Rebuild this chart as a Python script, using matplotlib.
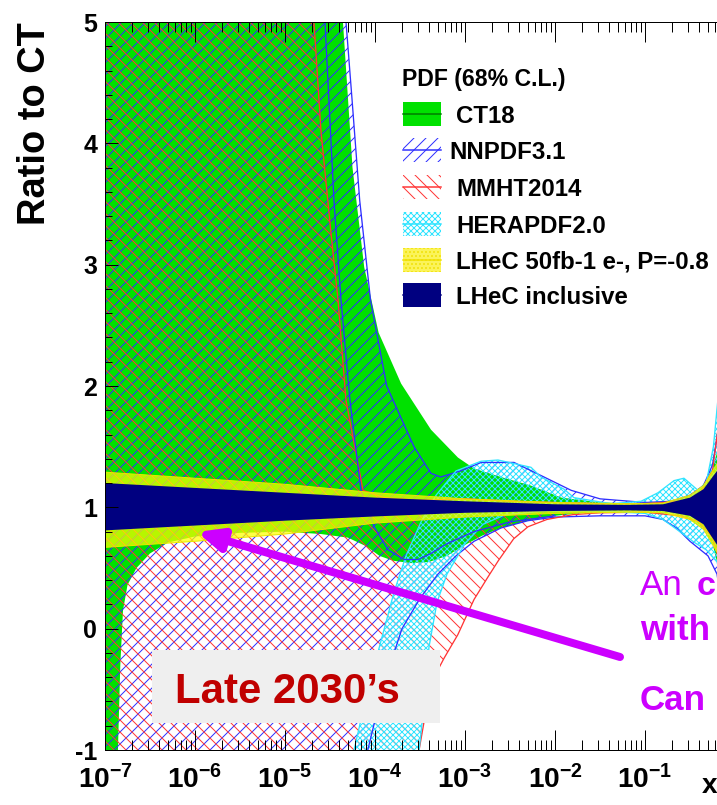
import numpy as np
import matplotlib
matplotlib.use("Agg")
import matplotlib.pyplot as plt
from matplotlib.patches import Rectangle, FancyArrowPatch
from matplotlib.lines import Line2D
from matplotlib.ticker import LogLocator, MultipleLocator, NullFormatter

# canvas in pixels; sizes below are written in pixels and converted with pt()
W, H, DPI = 717, 805, 72

# ---- PDF bands: ratio to CT18, edges given at log10(x) ----
CT18_UP_LOGX = [-7.0, -4.45, -4.40, -4.356, -4.25, -4.12, -3.96, -3.71, -3.378, -3.078,
                -2.9, -2.6, -2.27, -1.93, -1.49, -1.04, -0.66, -0.43, -0.32, -0.25, -0.20,
                -0.16, -0.10, 0.0]
CT18_UP = [6.0, 6.0, 5.6, 5.0, 3.8, 2.98, 2.44, 2.02, 1.64, 1.41,
           1.32, 1.25, 1.18, 1.08, 1.04, 1.03, 1.06, 1.12, 1.22, 1.32, 1.45,
           1.9, 3.0, 5.5]
CT18_LO_LOGX = [-7.0, -6.86, -6.83, -6.80, -6.75, -6.65, -6.5, -6.3, -6.0, -5.5, -5.0, -4.6,
                -4.3, -4.1, -3.95, -3.8, -3.6, -3.4, -3.2, -3.0, -2.8, -2.6, -2.3, -2.0,
                -1.6, -1.0, -0.7, -0.5, -0.35, -0.25, -0.15, 0.0]
CT18_LO = [-1.5, -1.1, -0.3, 0.15, 0.36, 0.50, 0.62, 0.71, 0.76, 0.79, 0.80, 0.78,
           0.75, 0.68, 0.60, 0.56, 0.54, 0.55, 0.60, 0.69, 0.77, 0.83, 0.89, 0.93,
           0.96, 0.965, 0.95, 0.90, 0.82, 0.70, 0.40, -0.5]

NN_UP_LOGX = [-7.0, -4.45, -4.322, -4.255, -4.17, -4.05, -3.87, -3.567, -3.378, -3.27,
              -3.05, -2.82, -2.456, -2.122, -1.82, -1.5, -1.0, -0.7, -0.5, -0.35, -0.25,
              -0.15, 0.0]
NN_UP = [6.0, 6.0, 5.0, 4.36, 3.53, 2.71, 2.0, 1.50, 1.28, 1.25,
         1.30, 1.37, 1.37, 1.25, 1.14, 1.07, 1.04, 1.05, 1.10, 1.18, 1.35,
         1.8, 4.0]
NN_LO_LOGX = [-7.0, -4.2, -4.08, -3.9, -3.7, -3.5, -3.3, -3.1, -2.9, -2.6, -2.3, -2.0,
              -1.5, -1.0, -0.8, -0.65, -0.5, -0.4, -0.3, -0.2, 0.0]
NN_LO = [-3.0, -3.0, -1.0, -0.45, 0.0, 0.25, 0.45, 0.60, 0.72, 0.83, 0.89, 0.92,
         0.93, 0.93, 0.90, 0.83, 0.72, 0.66, 0.60, 0.45, -0.5]
# inner NNPDF curve running down through the small-x region
NN_IN_LOGX = [-4.60, -4.556, -4.456, -4.378, -4.278, -4.156, -4.01, -3.856, -3.678,
              -3.522, -3.378, -3.2, -2.9, -2.5, -2.0]
NN_IN = [6.0, 5.0, 3.53, 2.71, 1.88, 1.14, 0.84, 0.65, 0.57,
         0.57, 0.62, 0.70, 0.80, 0.88, 0.93]

MM_UP_LOGX = [-7.0, -4.8, -4.678, -4.60, -4.489, -4.411, -4.322, -4.133, -3.9, -3.5, -3.0,
              -2.5, -2.0, -1.5, -1.0, -0.6, -0.4, -0.25, -0.18, -0.12, 0.0]
MM_UP = [6.0, 6.0, 5.0, 4.1, 3.26, 2.71, 1.88, 1.14, 1.08, 1.06, 1.07,
         1.05, 1.04, 1.03, 1.03, 1.05, 1.10, 1.30, 1.7, 2.5, 5.0]
MM_LO_LOGX = [-7.0, -3.6, -3.51, -3.42, -3.33, -3.23, -3.08, -2.9, -2.75, -2.63, -2.46,
              -2.3, -2.09, -1.8, -1.5, -1.0, -0.6, -0.4, -0.25, -0.15, 0.0]
MM_LO = [-3.0, -3.0, -1.0, -0.62, -0.38, -0.24, -0.05, 0.24, 0.42, 0.56, 0.74,
         0.84, 0.90, 0.94, 0.955, 0.96, 0.93, 0.88, 0.75, 0.5, -0.5]

HERA_UP_LOGX = [-7.0, -4.6, -4.233, -4.078, -3.933, -3.789, -3.656, -3.489, -3.322, -3.1,
                -2.822, -2.633, -2.267, -2.156, -1.9, -1.79, -1.378, -1.044, -0.856,
                -0.678, -0.567, -0.411, -0.32, -0.24, -0.15, 0.0]
HERA_UP = [-3.0, -3.0, -1.0, -0.5, -0.1, 0.3, 0.6, 0.88, 1.1, 1.3,
           1.38, 1.39, 1.33, 1.25, 1.15, 1.08, 1.03, 1.05, 1.12,
           1.22, 1.24, 1.14, 1.2, 1.5, 2.2, 4.0]
HERA_LO_LOGX = [-7.0, -4.6, -3.51, -3.46, -3.40, -3.31, -3.2, -3.0, -2.8, -2.55, -2.1,
                -1.5, -1.0, -0.8, -0.65, -0.45, -0.32, -0.2, 0.0]
HERA_LO = [-3.5, -3.5, -1.0, -0.66, -0.15, 0.22, 0.45, 0.70, 0.86, 0.94, 0.97,
           0.97, 0.95, 0.90, 0.82, 0.71, 0.65, 0.55, 0.0]

# LHeC projections share one x grid
LHEC_LOGX = [-7.0, -6.0, -5.0, -4.0, -3.0, -2.0, -1.2, -0.8, -0.5, -0.35, -0.19, -0.1, 0.0]
LHEC50_UP = [1.29, 1.24, 1.19, 1.12, 1.07, 1.04, 1.03, 1.035, 1.10, 1.18, 1.37, 1.65, 2.2]
LHEC50_LO = [0.67, 0.72, 0.78, 0.87, 0.92, 0.95, 0.96, 0.955, 0.90, 0.82, 0.62, 0.38, -0.1]
LHEC_INC_UP = [1.20, 1.16, 1.12, 1.08, 1.05, 1.025, 1.02, 1.025, 1.08, 1.15, 1.31, 1.55, 2.0]
LHEC_INC_LO = [0.81, 0.85, 0.89, 0.925, 0.955, 0.97, 0.975, 0.97, 0.93, 0.86, 0.68, 0.45, 0.0]

XTICK_EXP = [-7, -6, -5, -4, -3, -2, -1]
YTICKS = [-1, 0, 1, 2, 3, 4, 5]

LEGEND_TITLE = "PDF (68% C.L.)"
LEGEND_LABELS = ["CT18", "NNPDF3.1", "MMHT2014", "HERAPDF2.0",
                 "LHeC 50fb-1 e-, P=-0.8", "LHeC inclusive"]

GREEN = "#00e100"
DKGREEN = "#007a00"
BLUE = "#2f2fff"
RED = "#ff3535"
CYAN = "#30e4ff"
YELLOW = "#ffff00"
NAVY = "#000080"
MAGENTA = "#cc00ff"
DARKRED = "#c00000"

# hatch spacing: '/' repeats every dpi/3 px, so '//' -> 12 px at 72 dpi
HATCH_NN = "//"
HATCH_MM = "\\\\"
HATCH_HERA = "xxxx"


def pt(px):
    """pixel size -> points at the output dpi"""
    return px * 72.0 / DPI


def fxy(px, py):
    """pixel position (from top-left) -> figure fraction"""
    return px / W, 1 - py / H


def band_poly(lx_up, up, lx_lo, lo):
    xs = 10.0 ** np.concatenate([np.asarray(lx_up), np.asarray(lx_lo)[::-1]])
    ys = np.concatenate([np.asarray(up), np.asarray(lo)[::-1]])
    return xs, ys


def main():
    plt.rcParams["font.family"] = ["Liberation Sans", "DejaVu Sans"]
    plt.rcParams["mathtext.fontset"] = "custom"
    plt.rcParams["mathtext.rm"] = "Liberation Sans"
    plt.rcParams["mathtext.bf"] = "Liberation Sans:bold"
    plt.rcParams["hatch.linewidth"] = pt(1.0)

    fig = plt.figure(figsize=(W / DPI, H / DPI), dpi=DPI)
    fig.patch.set_facecolor("white")
    ax = fig.add_axes([105 / W, 55 / H, (735 - 105) / W, (750 - 22) / H])
    ax.set_xscale("log")

    # CT18 solid band
    xs, ys = band_poly(CT18_UP_LOGX, CT18_UP, CT18_LO_LOGX, CT18_LO)
    ax.fill(xs, ys, facecolor=GREEN, edgecolor="none", linewidth=0, zorder=1.0)

    # hatched bands
    for (lxu, u, lxl, l, col, hatch, z) in [
        (NN_UP_LOGX, NN_UP, NN_LO_LOGX, NN_LO, BLUE, HATCH_NN, 1.2),
        (MM_UP_LOGX, MM_UP, MM_LO_LOGX, MM_LO, RED, HATCH_MM, 1.3),
        (HERA_UP_LOGX, HERA_UP, HERA_LO_LOGX, HERA_LO, CYAN, HATCH_HERA, 1.4),
    ]:
        xs, ys = band_poly(lxu, u, lxl, l)
        ax.fill(xs, ys, facecolor="none", edgecolor=col, hatch=hatch,
                linewidth=0, zorder=z)
        ax.plot(10.0 ** np.asarray(lxu), u, color=col, lw=pt(1.3), zorder=1.6)
        ax.plot(10.0 ** np.asarray(lxl), l, color=col, lw=pt(1.3), zorder=1.6)

    ax.plot(10.0 ** np.asarray(NN_IN_LOGX), NN_IN, color=BLUE, lw=pt(1.3), zorder=1.6)

    # LHeC projections on top
    lx = 10.0 ** np.asarray(LHEC_LOGX)
    ax.fill_between(lx, LHEC50_LO, LHEC50_UP, facecolor=YELLOW, alpha=0.72,
                    linewidth=0, zorder=1.8)
    ax.plot(lx, LHEC50_UP, color="#e8e800", lw=pt(1.0), zorder=1.85)
    ax.plot(lx, LHEC50_LO, color="#e8e800", lw=pt(1.0), zorder=1.85)
    ax.fill_between(lx, LHEC_INC_LO, LHEC_INC_UP, facecolor=NAVY, linewidth=0,
                    zorder=1.9)

    ax.set_xlim(1e-7, 1)
    ax.set_ylim(-1, 5)

    # axes / ticks
    ax.set_axisbelow(False)
    ax.set_xticks([10.0 ** k for k in XTICK_EXP] + [1.0])
    ax.set_xticklabels([rf"$\mathbf{{10^{{{k}}}}}$" for k in XTICK_EXP] + [""])
    ax.xaxis.set_minor_locator(LogLocator(base=10, subs=np.arange(2, 10), numticks=20))
    ax.xaxis.set_minor_formatter(NullFormatter())
    ax.set_yticks(YTICKS)
    ax.set_yticklabels([str(v) for v in YTICKS], fontweight="bold")
    ax.yaxis.set_minor_locator(MultipleLocator(0.2))
    ax.tick_params(axis="x", which="major", direction="in", length=pt(20), width=pt(1),
                   top=True, pad=pt(15), labelsize=pt(28))
    ax.tick_params(axis="x", which="minor", direction="in", length=pt(10), width=pt(1),
                   top=True)
    ax.tick_params(axis="y", which="major", direction="in", length=pt(13), width=pt(1),
                   right=True, pad=pt(8), labelsize=pt(25))
    ax.tick_params(axis="y", which="minor", direction="in", length=pt(7), width=pt(1),
                   right=True)
    for s in ax.spines.values():
        s.set_linewidth(pt(1.0))

    fig.text(*fxy(35, 22), "Ratio to CT", rotation=90, ha="center", va="top",
             fontsize=pt(38), fontweight="bold")
    fig.text(*fxy(702, 793), "x", ha="left", va="baseline", fontsize=pt(28),
             fontweight="bold")

    # legend, drawn by hand
    fig.text(*fxy(402, 86), LEGEND_TITLE, ha="left", va="baseline",
             fontsize=pt(23), fontweight="bold")
    box_top = [102, 138, 175, 212, 248, 283]
    text_x = [456, 449, 456, 456, 456, 456]
    styles = [
        dict(facecolor=GREEN, edgecolor=GREEN, hatch=None, line=DKGREEN),
        dict(facecolor="white", edgecolor=BLUE, hatch=HATCH_NN, line=BLUE),
        dict(facecolor="white", edgecolor=RED, hatch=HATCH_MM, line=RED),
        dict(facecolor="white", edgecolor=CYAN, hatch=HATCH_HERA, line=CYAN),
        dict(facecolor="#fbf35a", edgecolor="#f0e000", hatch="...", line="#f0e000"),
        dict(facecolor=NAVY, edgecolor=NAVY, hatch=None, line=NAVY),
    ]
    for top, tx, lab, st in zip(box_top, text_x, LEGEND_LABELS, styles):
        x0, y0 = fxy(403, top + 24)
        rect = Rectangle((x0, y0), 38 / W, 24 / H, transform=fig.transFigure,
                         facecolor=st["facecolor"], edgecolor=st["edgecolor"],
                         hatch=st["hatch"], linewidth=0)
        fig.add_artist(rect)
        lx0, ly = fxy(403, top + 12)
        lx1, _ = fxy(441, top + 12)
        fig.add_artist(Line2D([lx0, lx1], [ly, ly], transform=fig.transFigure,
                              color=st["line"], lw=pt(1.5)))
        fig.text(*fxy(tx, top + 21), lab, ha="left", va="baseline",
                 fontsize=pt(24), fontweight="bold")

    # "Late 2030's" box
    bx, by = fxy(152, 723)
    fig.add_artist(Rectangle((bx, by), (440 - 152) / W, (723 - 650) / H,
                             transform=fig.transFigure, facecolor="#efefef",
                             edgecolor="none", zorder=5))
    fig.text(*fxy(287, 703), "Late 2030\u2019s", ha="center", va="baseline",
             fontsize=pt(42), fontweight="bold", color=DARKRED, zorder=6)

    # arrow towards the LHeC band
    arrow = FancyArrowPatch(fxy(620, 657), fxy(197, 532), transform=fig.transFigure,
                            arrowstyle="-|>,head_length=1.0,head_width=0.45",
                            mutation_scale=pt(20), lw=pt(8), color=MAGENTA,
                            shrinkA=0, shrinkB=0, zorder=7)
    fig.add_artist(arrow)

    fig.text(*fxy(640, 595), "An", ha="left", va="baseline", fontsize=pt(35),
             color=MAGENTA)
    fig.text(*fxy(697, 595), "c", ha="left", va="baseline", fontsize=pt(34),
             fontweight="bold", color=MAGENTA)
    fig.text(*fxy(640, 640), "with", ha="left", va="baseline", fontsize=pt(35),
             fontweight="bold", color=MAGENTA)
    fig.text(*fxy(640, 710), "Can", ha="left", va="baseline", fontsize=pt(35),
             fontweight="bold", color=MAGENTA)

    fig.savefig("out.png", dpi=DPI)
    plt.close(fig)


if __name__ == "__main__":
    main()
